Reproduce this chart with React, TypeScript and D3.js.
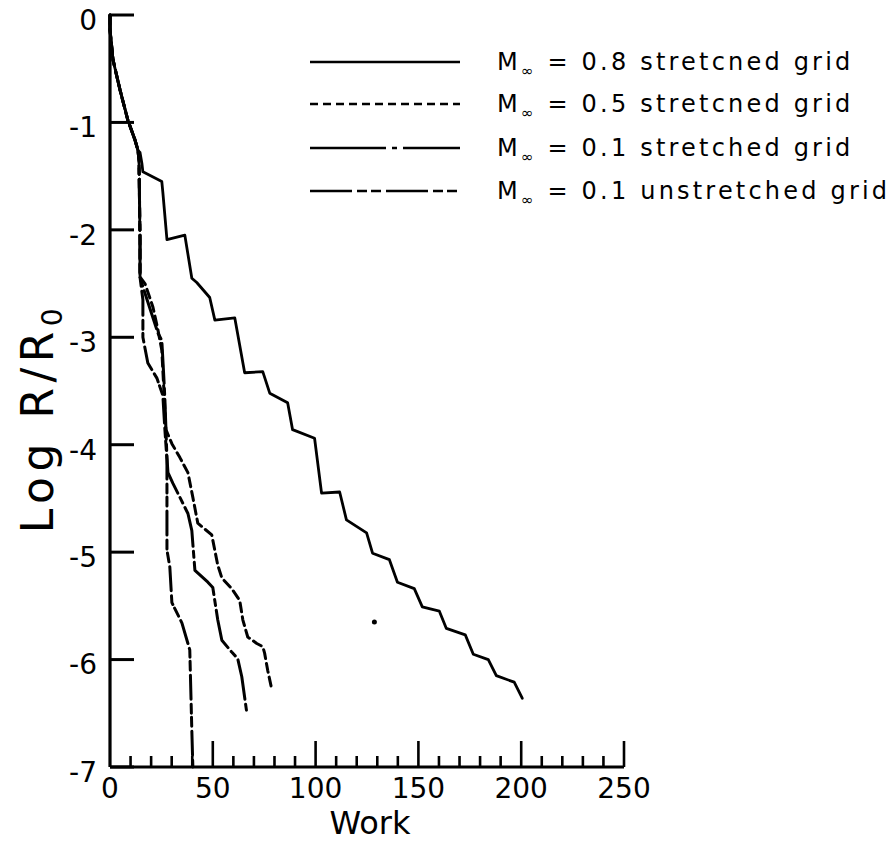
import React from "react";
import * as d3 from "d3";

type Pt = [number, number];

// Shared start of all four convergence histories (Work, log R/R0)
const startPath: Pt[] = [
  [0, 0], [0, -0.14], [1.5, -0.42], [4.9, -0.7], [8.7, -0.98], [12.1, -1.16], [13.6, -1.26],
];

// M = 0.8 stretched grid (solid)
const m08Tail: Pt[] = [
  [14.6, -1.28], [15.5, -1.38], [16, -1.46], [25.2, -1.55], [25.7, -1.65], [27.7, -2.09],
  [36.4, -2.05], [39.8, -2.45], [42.2, -2.49], [48.5, -2.63], [51, -2.84], [60.7, -2.82],
  [65.5, -3.33], [74.3, -3.32], [77.7, -3.52], [86.4, -3.61], [88.8, -3.86], [99.5, -3.94],
  [102.9, -4.45], [111.7, -4.44], [115, -4.7], [124.8, -4.82], [127.7, -5.01], [135.9, -5.07],
  [139.8, -5.28], [148, -5.34], [151.9, -5.51], [160.2, -5.55], [163.6, -5.71], [172.8, -5.77],
  [176.7, -5.95], [184, -6.0], [187.9, -6.15], [196.6, -6.21], [200.5, -6.36],
];

// Common steep drop of the three other curves
const sharedDrop: Pt[] = [[14.1, -1.35], [14.6, -2.09], [14.6, -2.44]];

// M = 0.5 stretched grid (dashed)
const m05Tail: Pt[] = [
  [17, -2.5], [20.9, -2.72], [23.3, -2.93], [25.2, -3.12], [26.2, -3.49], [27.2, -3.86],
  [30.1, -3.99], [34, -4.12], [37.9, -4.26], [40.3, -4.49], [42.7, -4.73], [49.5, -4.84],
  [52.4, -5.12], [54.4, -5.24], [59.2, -5.34], [63.1, -5.45], [64.6, -5.63], [67, -5.79],
  [71.4, -5.85], [74.3, -5.88], [75.2, -5.94], [76.7, -6.1], [78.6, -6.27],
];

// M = 0.1 stretched grid (long dash - short dash)
const m01sTail: Pt[] = [
  [16, -2.53], [23.3, -2.96], [25.2, -3.03], [26.2, -3.38], [26.7, -3.58], [27.7, -4.12],
  [28.2, -4.26], [30.6, -4.36], [37.9, -4.64], [39.8, -4.8], [41.3, -5.17], [47.6, -5.28],
  [50, -5.33], [52.4, -5.63], [54.4, -5.82], [59.2, -5.93], [62.1, -5.99], [64.1, -6.16],
  [66.5, -6.49],
];

// M = 0.1 unstretched grid (long dash - short - short)
const m01uTail: Pt[] = [
  [16, -2.65], [16, -3.0], [18.4, -3.24], [22.8, -3.38], [25.7, -3.54], [26.7, -3.86],
  [27.7, -4.14], [27.7, -4.52], [27.7, -4.98], [29.1, -5.14], [30.1, -5.47], [35, -5.66],
  [37.9, -5.85], [38.8, -5.91], [39.8, -6.66], [40.3, -7.0],
];

const strayDot: Pt[] = [[128.6, -5.65]];

const xTicks = [0, 50, 100, 150, 200, 250];
const xMinorTicks = d3.range(10, 251, 10);
const yTicks = [0, -1, -2, -3, -4, -5, -6, -7];

const legendLabels = [
  { value: "0.8", text: "stretcned grid" },
  { value: "0.5", text: "stretcned grid" },
  { value: "0.1", text: "stretched grid" },
  { value: "0.1", text: "unstretched grid" },
];
const dashes = ["none", "9,5", "40,5,6,5", "24,5,9,4,9,5"];
const legendDashes = ["none", "8,5", "76,6,5,6", "42,5,10,4,10,5"];

export default function App() {
  const W = 894, H = 846;
  const x = d3.scaleLinear().domain([0, 250]).range([110, 624]);
  const y = d3.scaleLinear().domain([0, -7]).range([15, 767]);
  const line = d3.line<Pt>().x((d) => x(d[0])).y((d) => y(d[1]));

  const series: Pt[][] = [
    [...startPath, ...m08Tail],
    [...startPath, ...sharedDrop, ...m05Tail],
    [...startPath, ...sharedDrop, ...m01sTail],
    [...startPath, ...sharedDrop, ...m01uTail],
  ];

  const font = "'DejaVu Sans', 'Liberation Sans', Arial, sans-serif";
  const legendRows = [62, 104, 148, 191];

  return (
    <svg width={W} height={H} style={{ position: "absolute", left: 0, top: 0, background: "#fff" }}
      fontFamily={font}>
      <rect x={0} y={0} width={W} height={H} fill="#fff" />
      {/* axes */}
      <line x1={x(0)} x2={x(0)} y1={y(0)} y2={y(-7)} stroke="#000" strokeWidth={3.2} />
      <line x1={x(0)} x2={x(250)} y1={y(-7)} y2={y(-7)} stroke="#000" strokeWidth={3.2} />
      {yTicks.map((t) => (
        <g key={"yt" + t}>
          <line x1={x(0)} x2={x(0) + 24} y1={y(t)} y2={y(t)} stroke="#000" strokeWidth={3} />
          <text x={97} y={y(t) + 5} dy="0.35em" textAnchor="end" fontSize={28}>{t === 0 ? "0" : "-" + Math.abs(t)}</text>
        </g>
      ))}
      {xMinorTicks.map((t) => (
        <line key={"xm" + t} x1={x(t)} x2={x(t)} y1={y(-7)} y2={y(-7) - (t % 50 === 0 ? 26 : 11)}
          stroke="#000" strokeWidth={2.6} />
      ))}
      {xTicks.map((t) => (
        <text key={"xt" + t} x={x(t)} y={798} textAnchor="middle" fontSize={28}>{t}</text>
      ))}
      <text x={370} y={834} textAnchor="middle" fontSize={32}>Work</text>
      <text transform={`translate(53,${418}) rotate(-90)`} textAnchor="middle" fontSize={44} letterSpacing={5.5}>
        Log R/R<tspan fontSize={28} dy={9}>0</tspan>
      </text>

      {/* curves */}
      {series.map((s, i) => (
        <path key={"s" + i} d={line(s) || ""} fill="none" stroke="#000" strokeWidth={i === 0 ? 2.8 : 3}
          strokeDasharray={dashes[i]} strokeLinejoin="round" strokeLinecap="round" />
      ))}
      {strayDot.map((d, i) => (
        <circle key={"dot" + i} cx={x(d[0])} cy={y(d[1])} r={2.5} fill="#000" />
      ))}

      {/* legend */}
      {legendLabels.map((l, i) => (
        <g key={"lg" + i}>
          <line x1={310} x2={460} y1={legendRows[i]} y2={legendRows[i]} stroke="#000" strokeWidth={2.6}
            strokeDasharray={legendDashes[i]} />
          <text x={497} y={legendRows[i] + 8} fontSize={24} letterSpacing={3.2}>
            M<tspan fontSize={15} dy={6}>∞</tspan><tspan dy={-6}> = {l.value} {l.text}</tspan>
          </text>
        </g>
      ))}
    </svg>
  );
}
